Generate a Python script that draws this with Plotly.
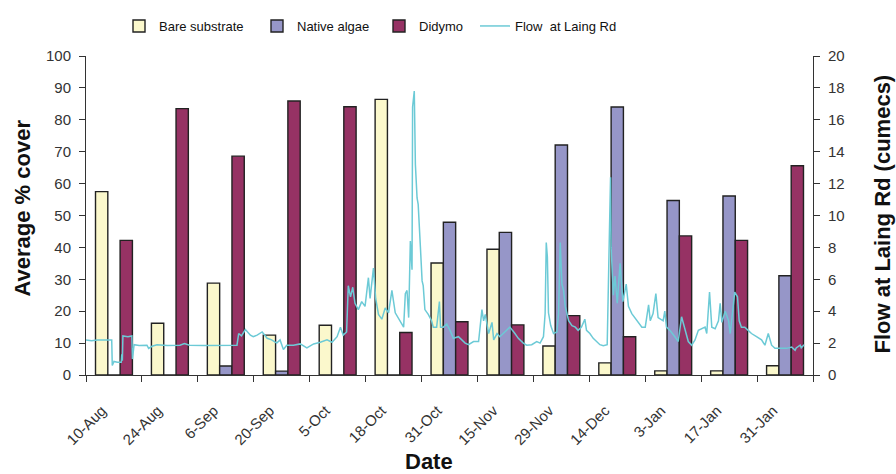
import plotly.graph_objects as go

# ---------------- data ----------------
dates = ["10-Aug", "24-Aug", "6-Sep", "20-Sep", "5-Oct", "18-Oct", "31-Oct",
         "15-Nov", "29-Nov", "14-Dec", "3-Jan", "17-Jan", "31-Jan"]
bare = [57.5, 16.2, 28.8, 12.5, 15.6, 86.4, 35.1, 39.4, 9.1, 3.8, 1.3, 1.3, 2.9]
native = [0, 0, 2.8, 1.2, 0, 0, 47.9, 44.7, 72.1, 84.0, 54.7, 56.1, 31.1]
didymo = [42.2, 83.5, 68.6, 85.9, 84.1, 13.3, 16.7, 15.7, 18.6, 12.0, 43.6, 42.2, 65.6]

# flow position in sampling-period units (0 = start of first period, 13 = end of last)
flow_pos = [0.00, 0.10, 0.20, 0.30, 0.46, 0.47, 0.50, 0.56, 0.63, 0.64, 0.65, 0.66, 0.75, 0.82, 0.83,
            0.86, 0.95, 1.09, 1.12, 1.18, 1.27, 1.45, 1.68, 1.76, 1.85, 2.10, 2.40, 2.70, 2.73, 2.78,
            2.85, 2.94, 2.99, 3.06, 3.15, 3.24, 3.32, 3.41, 3.47, 3.53, 3.59, 3.71, 3.83, 3.95, 4.07,
            4.19, 4.31, 4.40, 4.49, 4.55, 4.60, 4.66, 4.69, 4.73, 4.77, 4.81, 4.87, 4.93, 4.99, 5.05,
            5.08, 5.14, 5.18, 5.23, 5.29, 5.35, 5.41, 5.47, 5.53, 5.59, 5.65, 5.68, 5.71, 5.74, 5.77,
            5.80, 5.83, 5.84, 5.87, 5.89, 5.92, 5.94, 5.98, 6.01, 6.03, 6.06, 6.12, 6.18, 6.21, 6.27,
            6.32, 6.34, 6.39, 6.45, 6.51, 6.57, 6.66, 6.72, 6.78, 6.84, 6.93, 7.02, 7.08, 7.11, 7.14,
            7.20, 7.26, 7.29, 7.35, 7.40, 7.46, 7.52, 7.58, 7.67, 7.73, 7.82, 7.88, 7.97, 8.06, 8.12,
            8.18, 8.21, 8.23, 8.25, 8.27, 8.31, 8.36, 8.42, 8.45, 8.48, 8.51, 8.54, 8.57, 8.63, 8.69,
            8.75, 8.80, 8.86, 8.92, 8.95, 9.01, 9.07, 9.13, 9.19, 9.25, 9.32, 9.36, 9.38, 9.39, 9.43,
            9.46, 9.50, 9.55, 9.60, 9.66, 9.70, 9.76, 9.85, 9.94, 10.00, 10.06, 10.09, 10.14, 10.19, 10.23,
            10.32, 10.35, 10.38, 10.44, 10.53, 10.59, 10.65, 10.71, 10.77, 10.83, 10.89, 10.95, 11.01, 11.07, 11.10,
            11.15, 11.19, 11.25, 11.31, 11.34, 11.37, 11.43, 11.49, 11.52, 11.57, 11.60, 11.65, 11.68, 11.72, 11.78,
            11.84, 11.90, 11.99, 12.08, 12.14, 12.20, 12.26, 12.32, 12.41, 12.53, 12.62, 12.68, 12.70, 12.77, 12.79,
            12.84]
flow_cumecs = [2.2, 2.15, 2.2, 2.2, 2.2, 0.6, 0.85, 0.8, 0.8, 1.3, 0.9, 2.45, 2.4, 2.45, 1.0,
               1.9, 1.85, 1.87, 1.67, 1.8, 1.9, 1.85, 1.87, 1.97, 1.87, 1.85, 1.87, 1.87, 2.6, 2.45,
               2.85, 2.5, 2.4, 2.5, 2.7, 2.3, 2.2, 2.0, 2.2, 1.6, 1.87, 1.87, 1.95, 1.7, 1.95,
               2.05, 2.2, 2.05, 2.4, 3.0, 2.5, 2.7, 5.6, 4.9, 5.5, 4.5, 4.1, 4.6, 4.3, 6.1,
               4.8, 6.7, 4.8, 3.8, 3.5, 4.2, 3.9, 5.3, 3.9, 3.5, 3.2, 3.0, 5.1, 5.3, 3.6,
               8.4, 6.6, 16.8, 17.8, 13.2, 11.1, 10.7, 8.0, 5.9, 5.6, 4.1, 3.8, 3.4, 3.0, 3.0,
               4.6, 3.0, 3.0, 3.2, 2.8, 2.3, 2.4, 2.2, 2.0, 1.9, 2.1, 2.1, 4.1, 3.4, 3.8,
               2.6, 3.3, 2.2, 2.6, 2.4, 2.6, 2.8, 3.0, 2.6, 2.3, 2.0, 1.87, 1.9, 2.1, 2.0,
               2.4, 3.85, 8.3, 7.4, 3.9, 3.1, 2.6, 2.7, 3.85, 8.3, 5.7, 5.3, 4.3, 3.4, 3.1,
               3.0, 2.8, 3.0, 3.5, 2.8, 2.6, 2.3, 2.1, 1.9, 1.83, 1.9, 9.0, 12.4, 8.0, 5.0,
               6.2, 4.5, 7.0, 4.6, 5.7, 4.3, 3.85, 3.4, 3.0, 3.0, 4.4, 3.4, 3.85, 5.1, 3.6,
               3.4, 4.0, 3.0, 2.8, 2.4, 2.1, 3.65, 2.8, 2.1, 1.87, 2.2, 2.8, 2.9, 3.0, 2.6,
               5.2, 3.0, 2.9, 3.4, 4.5, 3.3, 4.0, 3.4, 2.6, 4.2, 5.2, 4.9, 3.4, 3.0, 3.0,
               2.8, 2.6, 2.4, 2.2, 1.87, 2.6, 1.87, 1.67, 1.67, 1.67, 1.75, 1.55, 1.7, 1.87, 1.7,
               1.9]

# ---------------- style ----------------
FONT = "Liberation Sans, Arial, sans-serif"
EDGE = "#222222"
AX = "#333333"
C_BARE, C_NATIVE, C_DIDYMO, C_FLOW = "#FBF8CC", "#9696C8", "#963264", "#6CCAD6"

W, H = 896, 474
L, R, T, B = 86, 813, 55, 375  # plot area in pixels


def px_x(p):
    return (p - L) / (R - L)


def px_y(p):
    return (B - p) / (B - T)


fig = go.Figure()
bar_line = dict(color=EDGE, width=1.4)
fig.add_bar(x=dates, y=bare, name="Bare substrate",
            marker=dict(color=C_BARE, line=bar_line), legend="legend")
fig.add_bar(x=dates, y=native, name="Native algae",
            marker=dict(color=C_NATIVE, line=bar_line), legend="legend2")
fig.add_bar(x=dates, y=didymo, name="Didymo",
            marker=dict(color=C_DIDYMO, line=bar_line), legend="legend3")
fig.add_scatter(x=flow_pos, y=flow_cumecs, name="Flow  at Laing Rd", mode="lines",
                xaxis="x2", yaxis="y2", line=dict(color=C_FLOW, width=1.5),
                legend="legend4")

leg_common = dict(orientation="h", yanchor="middle", xanchor="left",
                  font=dict(family=FONT, size=13, color="#111111"),
                  bgcolor="rgba(0,0,0,0)", borderwidth=0)
text_starts = [159, 297, 419, 515]
legends = {}
for i, ts in enumerate(text_starts):
    key = "legend" if i == 0 else f"legend{i + 1}"
    legends[key] = dict(leg_common, x=px_x(ts - 40), y=px_y(26))

axis_font = dict(family=FONT, size=15, color=AX)

fig.update_layout(
    width=W, height=H, autosize=False,
    margin=dict(l=L, r=W - R, t=T, b=H - B, pad=0),
    paper_bgcolor="white", plot_bgcolor="white",
    barmode="group", bargap=0.34, bargroupgap=0,
    font=dict(family=FONT, color=AX),
    showlegend=True,
    xaxis=dict(type="category", tickson="boundaries", ticks="outside", ticklen=6,
               tickcolor=AX, tickangle=-45, showline=True, linecolor=AX, linewidth=1,
               showgrid=False, zeroline=False, tickfont=axis_font, range=[-0.5, 12.5],
               ticklabelstandoff=20, ticklabelshift=-12),
    xaxis2=dict(overlaying="x", range=[0, 13], visible=False, showgrid=False),
    yaxis=dict(range=[0, 100], dtick=10, ticks="outside", ticklen=6, tickcolor=AX,
               showline=True, linecolor=AX, linewidth=1, showgrid=False, zeroline=False,
               tickfont=axis_font, ticklabelstandoff=5),
    yaxis2=dict(overlaying="y", side="right", anchor="x", range=[0, 20], dtick=2,
                ticks="outside", ticklen=6, tickcolor=AX, showline=True, linecolor=AX,
                linewidth=1, showgrid=False, zeroline=False, tickfont=axis_font,
                ticklabelstandoff=5),
    annotations=[
        dict(text="Date", x=px_x(429), y=px_y(462), xref="paper", yref="paper",
             showarrow=False, xanchor="center", yanchor="middle",
             font=dict(family=FONT, size=22, color="#111111", weight="bold")),
        dict(text="Average % cover", x=px_x(23), y=px_y(208), xref="paper", yref="paper",
             showarrow=False, xanchor="center", yanchor="middle", textangle=-90,
             font=dict(family=FONT, size=22, color="#111111", weight="bold")),
        dict(text="Flow at Laing Rd (cumecs)", x=px_x(883), y=px_y(214), xref="paper",
             yref="paper", showarrow=False, xanchor="center", yanchor="middle", textangle=-90,
             font=dict(family=FONT, size=22, color="#111111", weight="bold")),
    ],
    **legends,
)

fig.write_html("out.html",
               config={"displayModeBar": False},
               post_script="document.body.style.margin='0px';"
                           "document.body.style.overflow='hidden';")
